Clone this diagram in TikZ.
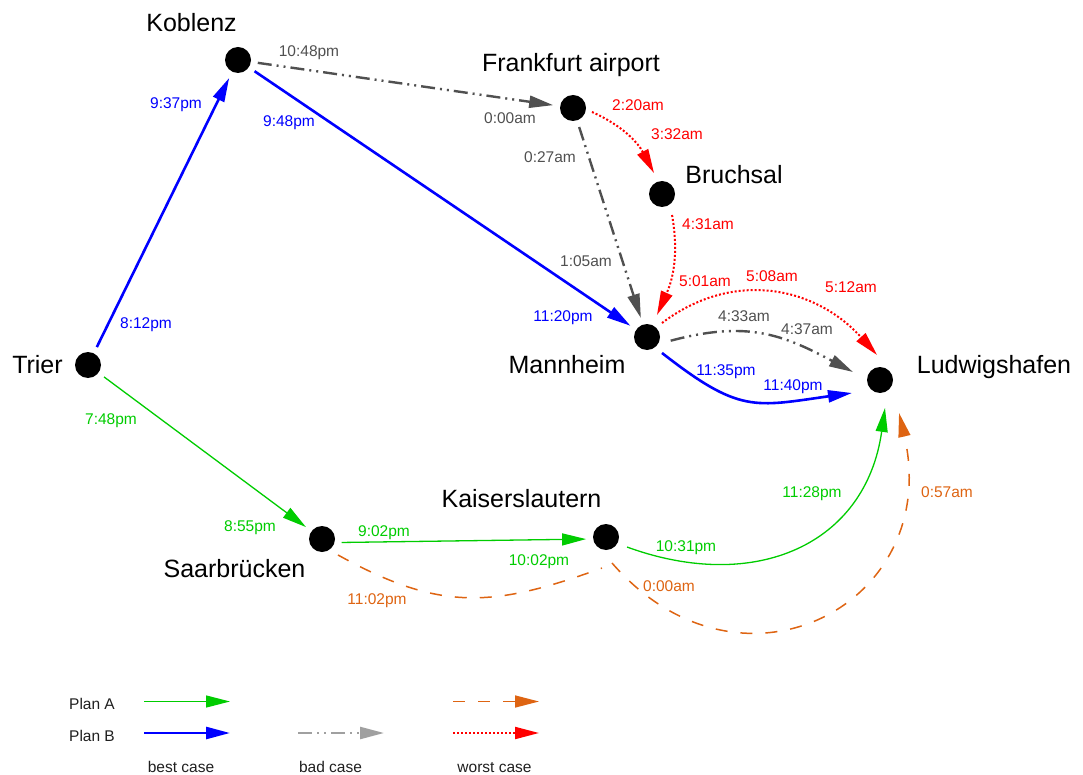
\documentclass[tikz,border=0pt]{standalone}
\usepackage{fontspec}
\setmainfont{Liberation Sans}
\usetikzlibrary{arrows.meta}

\definecolor{planAgreen}{RGB}{0,204,0}
\definecolor{planBblue}{RGB}{0,0,255}
\definecolor{badgray}{RGB}{80,80,80}
\definecolor{badlegend}{RGB}{160,160,160}
\definecolor{worstred}{RGB}{255,0,0}
\definecolor{worstorange}{RGB}{222,100,18}

\tikzset{
  city/.style={circle, fill=black, minimum size=26pt, inner sep=0pt, outer sep=7pt},
  cityname/.style={anchor=base, inner sep=0pt, font=\fontsize{25}{30}\selectfont},
  timelabel/.style={anchor=base, inner sep=0pt, font=\fontsize{15.5}{18}\selectfont},
  legendtext/.style={anchor=base, inner sep=0pt, font=\fontsize{15.5}{18}\selectfont, text=black!88},
  headed/.style={-{Triangle[length=24pt,width=12pt]}},
  routeA/.style={headed, planAgreen, line width=1.3pt},
  routeB/.style={headed, planBblue, line width=2.6pt},
  badroute/.style={headed, badgray, line width=2.4pt, dash pattern=on 14pt off 5pt on 2pt off 5pt on 2pt off 5pt},
  worstroute/.style={headed, worstred, line width=2pt, dash pattern=on 2pt off 2pt},
  detourA/.style={worstorange, line width=1.5pt, dash pattern=on 12pt off 13pt},
}

\begin{document}
\begin{tikzpicture}[x=1pt,y=1pt]
\useasboundingbox (0,0) rectangle (1083,-775);

% stations
\node[city] (kob) at (238,-60) {};
\node[city] (tri) at (88,-365) {};
\node[city] (fra) at (573,-108) {};
\node[city] (bru) at (662,-194) {};
\node[city] (man) at (647,-337) {};
\node[city] (lud) at (880,-380) {};
\node[city] (saa) at (322,-539) {};
\node[city] (kai) at (606,-537) {};

% station names
\node[cityname] (kobname) at (191.5,-32) {Koblenz};
\node[cityname] (triname) at (37.5,-373) {Trier};
\node[cityname] (franame) at (571,-72) {Frankfurt airport};
\node[cityname] (bruname) at (734,-184) {Bruchsal};
\node[cityname] (manname) at (567,-373) {Mannheim};
\node[cityname] (ludname) at (994,-373) {Ludwigshafen};
\node[cityname] (saaname) at (234.5,-577) {Saarbrücken};
\node[cityname] (kainame) at (521.5,-507) {Kaiserslautern};

% plan B, best case
\draw[routeB] (tri) -- (kob);
\draw[routeB] (kob) -- (man);
\draw[routeB] ([shift={(-46.8:21.9)}]man.center) to[out=-38,in=188,looseness=1.3] ([shift={(204.9:30.9)}]lud.center);

% bad case
\draw[badroute] (kob) -- (fra);
\draw[badroute] (fra) -- (man);
\draw[badroute] ([shift={(-8.9:24)}]man.center) to[out=15,in=152,looseness=1.1] ([shift={(163.5:28.2)}]lud.center);

% worst case
\draw[worstroute] ([shift={(-11.9:19.4)}]fra.center) to[out=-24,in=118] ([shift={(110.9:22.5)}]bru.center);
\draw[worstroute] ([shift={(-64.5:23.3)}]bru.center) to[out=-80,in=66] ([shift={(65.6:24.2)}]man.center);
\draw[worstroute] ([shift={(43:20.5)}]man.center) to[out=37,in=132,looseness=1.07] ([shift={(96.8:25.2)}]lud.center);

% plan A, best case
\draw[routeA] (tri) -- (saa);
\draw[routeA] (saa.-10) -- (kai.186);
\draw[routeA] ([shift={(-25.5:23.3)}]kai.center) to[out=-20,in=262,looseness=1.2] ([shift={(-79.9:28.4)}]lud.center);

% plan A, worst case
\draw[detourA] ([shift={(-45:22.6)}]saa.center) to[out=-29,in=200,looseness=1.13] ([shift={(-97.4:31.3)}]kai.center);
\draw[detourA, headed] ([shift={(-77:26.7)}]kai.center) to[out=-49,in=283,looseness=1.55] ([shift={(-60:38.1)}]lud.center);

% departure and arrival times
\node[timelabel, text=planBblue] (t01) at (176,-109) {9:37pm};
\node[timelabel, text=planBblue] (t02) at (146,-328) {8:12pm};
\node[timelabel, text=planBblue] (t03) at (289,-127) {9:48pm};
\node[timelabel, text=planBblue] (t04) at (563,-321) {11:20pm};
\node[timelabel, text=planBblue] (t05) at (726,-375) {11:35pm};
\node[timelabel, text=planBblue] (t06) at (793,-390) {11:40pm};

\node[timelabel, text=badgray] (t07) at (309,-57) {10:48pm};
\node[timelabel, text=badgray] (t08) at (510,-124) {0:00am};
\node[timelabel, text=badgray] (t09) at (550,-163) {0:27am};
\node[timelabel, text=badgray] (t10) at (586,-267) {1:05am};
\node[timelabel, text=badgray] (t11) at (744,-321) {4:33am};
\node[timelabel, text=badgray] (t12) at (807,-334) {4:37am};

\node[timelabel, text=worstred] (t13) at (638,-111) {2:20am};
\node[timelabel, text=worstred] (t14) at (677,-140) {3:32am};
\node[timelabel, text=worstred] (t15) at (708,-230) {4:31am};
\node[timelabel, text=worstred] (t16) at (705,-287) {5:01am};
\node[timelabel, text=worstred] (t17) at (772,-282) {5:08am};
\node[timelabel, text=worstred] (t18) at (851,-293) {5:12am};

\node[timelabel, text=planAgreen] (t19) at (111,-424) {7:48pm};
\node[timelabel, text=planAgreen] (t20) at (250,-531) {8:55pm};
\node[timelabel, text=planAgreen] (t21) at (384,-536) {9:02pm};
\node[timelabel, text=planAgreen] (t22) at (539,-565) {10:02pm};
\node[timelabel, text=planAgreen] (t23) at (686,-551) {10:31pm};
\node[timelabel, text=planAgreen] (t24) at (812,-497) {11:28pm};

\node[timelabel, text=worstorange] (t25) at (377,-604) {11:02pm};
\node[timelabel, text=worstorange] (t26) at (669,-591) {0:00am};
\node[timelabel, text=worstorange] (t27) at (947,-497) {0:57am};

% legend
\coordinate (legAbestL) at (144,-701.5);
\coordinate (legAbestR) at (230,-701.5);
\coordinate (legBbestL) at (144,-733);
\coordinate (legBbestR) at (230,-733);
\coordinate (legBbadL) at (298,-733);
\coordinate (legBbadR) at (384,-733);
\coordinate (legAworstL) at (453,-701.5);
\coordinate (legAworstR) at (539,-701.5);
\coordinate (legBworstL) at (453,-733);
\coordinate (legBworstR) at (539,-733);

\draw[routeA] (legAbestL) -- (legAbestR);
\draw[routeB] (legBbestL) -- (legBbestR);
\draw[badroute, badlegend] (legBbadL) -- (legBbadR);
\draw[detourA, headed] (legAworstL) -- (legAworstR);
\draw[worstroute] (legBworstL) -- (legBworstR);

\node[legendtext] (planA) at (92,-709) {Plan A};
\node[legendtext] (planB) at (92,-741) {Plan B};
\node[legendtext] (bestcase) at (181,-772) {best case};
\node[legendtext] (badcase) at (330.5,-772) {bad case};
\node[legendtext] (worstcase) at (494.5,-772) {worst case};
\end{tikzpicture}
\end{document}
